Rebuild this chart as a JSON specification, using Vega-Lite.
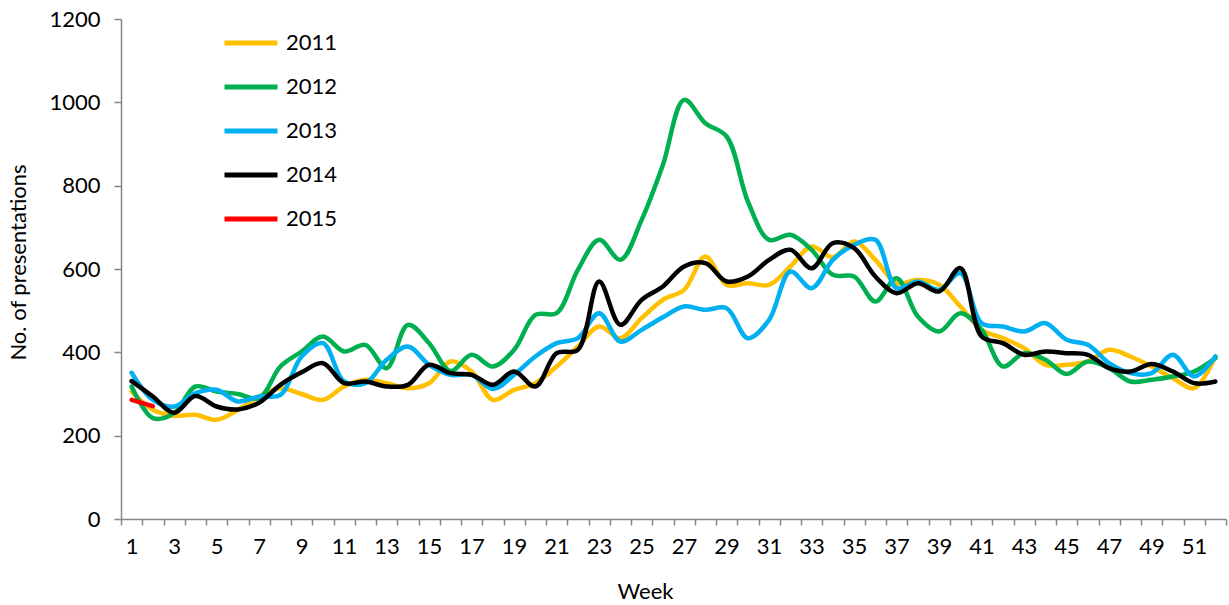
{
"$schema": "https://vega.github.io/schema/vega-lite/v6.json",
"width": 1105, "height": 500,
"autosize": {"type": "none"},
"padding": {"left": 121, "top": 19, "right": 3, "bottom": 86},
"config": {"view": {"stroke": null}, "font": "Lato"},
"data": {"values": [
{"week":1,"year":"2011","value":306},{"week":2,"year":"2011","value":262},{"week":3,"year":"2011","value":248},{"week":4,"year":"2011","value":250},{"week":5,"year":"2011","value":238},{"week":6,"year":"2011","value":262},{"week":7,"year":"2011","value":294},{"week":8,"year":"2011","value":314},{"week":9,"year":"2011","value":300},{"week":10,"year":"2011","value":286},{"week":11,"year":"2011","value":318},{"week":12,"year":"2011","value":334},{"week":13,"year":"2011","value":326},{"week":14,"year":"2011","value":314},{"week":15,"year":"2011","value":326},{"week":16,"year":"2011","value":378},{"week":17,"year":"2011","value":354},{"week":18,"year":"2011","value":286},{"week":19,"year":"2011","value":310},{"week":20,"year":"2011","value":326},{"week":21,"year":"2011","value":366},{"week":22,"year":"2011","value":414},{"week":23,"year":"2011","value":462},{"week":24,"year":"2011","value":434},{"week":25,"year":"2011","value":482},{"week":26,"year":"2011","value":526},{"week":27,"year":"2011","value":550},{"week":28,"year":"2011","value":630},{"week":29,"year":"2011","value":562},{"week":30,"year":"2011","value":566},{"week":31,"year":"2011","value":562},{"week":32,"year":"2011","value":606},{"week":33,"year":"2011","value":654},{"week":34,"year":"2011","value":628},{"week":35,"year":"2011","value":666},{"week":36,"year":"2011","value":622},{"week":37,"year":"2011","value":566},{"week":38,"year":"2011","value":574},{"week":39,"year":"2011","value":562},{"week":40,"year":"2011","value":510},{"week":41,"year":"2011","value":454},{"week":42,"year":"2011","value":434},{"week":43,"year":"2011","value":410},{"week":44,"year":"2011","value":370},{"week":45,"year":"2011","value":370},{"week":46,"year":"2011","value":378},{"week":47,"year":"2011","value":406},{"week":48,"year":"2011","value":390},{"week":49,"year":"2011","value":366},{"week":50,"year":"2011","value":338},{"week":51,"year":"2011","value":314},{"week":52,"year":"2011","value":390},
{"week":1,"year":"2012","value":318},{"week":2,"year":"2012","value":242},{"week":3,"year":"2012","value":254},{"week":4,"year":"2012","value":318},{"week":5,"year":"2012","value":306},{"week":6,"year":"2012","value":300},{"week":7,"year":"2012","value":290},{"week":8,"year":"2012","value":366},{"week":9,"year":"2012","value":402},{"week":10,"year":"2012","value":438},{"week":11,"year":"2012","value":402},{"week":12,"year":"2012","value":418},{"week":13,"year":"2012","value":362},{"week":14,"year":"2012","value":466},{"week":15,"year":"2012","value":422},{"week":16,"year":"2012","value":355},{"week":17,"year":"2012","value":394},{"week":18,"year":"2012","value":366},{"week":19,"year":"2012","value":406},{"week":20,"year":"2012","value":490},{"week":21,"year":"2012","value":494},{"week":22,"year":"2012","value":598},{"week":23,"year":"2012","value":670},{"week":24,"year":"2012","value":622},{"week":25,"year":"2012","value":718},{"week":26,"year":"2012","value":850},{"week":27,"year":"2012","value":1006},{"week":28,"year":"2012","value":950},{"week":29,"year":"2012","value":918},{"week":30,"year":"2012","value":762},{"week":31,"year":"2012","value":670},{"week":32,"year":"2012","value":682},{"week":33,"year":"2012","value":646},{"week":34,"year":"2012","value":586},{"week":35,"year":"2012","value":582},{"week":36,"year":"2012","value":522},{"week":37,"year":"2012","value":578},{"week":38,"year":"2012","value":486},{"week":39,"year":"2012","value":450},{"week":40,"year":"2012","value":494},{"week":41,"year":"2012","value":454},{"week":42,"year":"2012","value":366},{"week":43,"year":"2012","value":398},{"week":44,"year":"2012","value":382},{"week":45,"year":"2012","value":348},{"week":46,"year":"2012","value":378},{"week":47,"year":"2012","value":362},{"week":48,"year":"2012","value":330},{"week":49,"year":"2012","value":334},{"week":50,"year":"2012","value":342},{"week":51,"year":"2012","value":354},{"week":52,"year":"2012","value":386},
{"week":1,"year":"2013","value":351},{"week":2,"year":"2013","value":286},{"week":3,"year":"2013","value":270},{"week":4,"year":"2013","value":302},{"week":5,"year":"2013","value":310},{"week":6,"year":"2013","value":282},{"week":7,"year":"2013","value":294},{"week":8,"year":"2013","value":298},{"week":9,"year":"2013","value":390},{"week":10,"year":"2013","value":422},{"week":11,"year":"2013","value":330},{"week":12,"year":"2013","value":326},{"week":13,"year":"2013","value":382},{"week":14,"year":"2013","value":414},{"week":15,"year":"2013","value":370},{"week":16,"year":"2013","value":346},{"week":17,"year":"2013","value":346},{"week":18,"year":"2013","value":312},{"week":19,"year":"2013","value":346},{"week":20,"year":"2013","value":390},{"week":21,"year":"2013","value":422},{"week":22,"year":"2013","value":434},{"week":23,"year":"2013","value":494},{"week":24,"year":"2013","value":426},{"week":25,"year":"2013","value":454},{"week":26,"year":"2013","value":484},{"week":27,"year":"2013","value":510},{"week":28,"year":"2013","value":502},{"week":29,"year":"2013","value":506},{"week":30,"year":"2013","value":434},{"week":31,"year":"2013","value":478},{"week":32,"year":"2013","value":594},{"week":33,"year":"2013","value":554},{"week":34,"year":"2013","value":622},{"week":35,"year":"2013","value":658},{"week":36,"year":"2013","value":670},{"week":37,"year":"2013","value":554},{"week":38,"year":"2013","value":570},{"week":39,"year":"2013","value":550},{"week":40,"year":"2013","value":590},{"week":41,"year":"2013","value":470},{"week":42,"year":"2013","value":462},{"week":43,"year":"2013","value":450},{"week":44,"year":"2013","value":470},{"week":45,"year":"2013","value":430},{"week":46,"year":"2013","value":418},{"week":47,"year":"2013","value":374},{"week":48,"year":"2013","value":350},{"week":49,"year":"2013","value":350},{"week":50,"year":"2013","value":394},{"week":51,"year":"2013","value":342},{"week":52,"year":"2013","value":390},
{"week":1,"year":"2014","value":331},{"week":2,"year":"2014","value":294},{"week":3,"year":"2014","value":255},{"week":4,"year":"2014","value":295},{"week":5,"year":"2014","value":270},{"week":6,"year":"2014","value":263},{"week":7,"year":"2014","value":279},{"week":8,"year":"2014","value":322},{"week":9,"year":"2014","value":352},{"week":10,"year":"2014","value":374},{"week":11,"year":"2014","value":326},{"week":12,"year":"2014","value":330},{"week":13,"year":"2014","value":318},{"week":14,"year":"2014","value":322},{"week":15,"year":"2014","value":370},{"week":16,"year":"2014","value":350},{"week":17,"year":"2014","value":346},{"week":18,"year":"2014","value":322},{"week":19,"year":"2014","value":354},{"week":20,"year":"2014","value":318},{"week":21,"year":"2014","value":398},{"week":22,"year":"2014","value":406},{"week":23,"year":"2014","value":570},{"week":24,"year":"2014","value":466},{"week":25,"year":"2014","value":526},{"week":26,"year":"2014","value":558},{"week":27,"year":"2014","value":606},{"week":28,"year":"2014","value":614},{"week":29,"year":"2014","value":570},{"week":30,"year":"2014","value":582},{"week":31,"year":"2014","value":622},{"week":32,"year":"2014","value":646},{"week":33,"year":"2014","value":602},{"week":34,"year":"2014","value":662},{"week":35,"year":"2014","value":650},{"week":36,"year":"2014","value":582},{"week":37,"year":"2014","value":542},{"week":38,"year":"2014","value":566},{"week":39,"year":"2014","value":546},{"week":40,"year":"2014","value":602},{"week":41,"year":"2014","value":438},{"week":42,"year":"2014","value":422},{"week":43,"year":"2014","value":394},{"week":44,"year":"2014","value":402},{"week":45,"year":"2014","value":398},{"week":46,"year":"2014","value":394},{"week":47,"year":"2014","value":362},{"week":48,"year":"2014","value":354},{"week":49,"year":"2014","value":372},{"week":50,"year":"2014","value":354},{"week":51,"year":"2014","value":326},{"week":52,"year":"2014","value":330},
{"week":1,"year":"2015","value":286},{"week":2,"year":"2015","value":271}
]},
"mark": {"type": "line", "interpolate": "catmull-rom", "strokeWidth": 4.5, "strokeCap": "round", "strokeJoin": "round"},
"encoding": {
"x": {"field": "week", "type": "ordinal", "sort": "ascending",
"scale": {"type": "band", "paddingInner": 0, "paddingOuter": 0},
"axis": {"tickBand": "extent", "tickSize": 6, "tickColor": "#868686", "domainColor": "#868686", "domainWidth": 1.5, "tickWidth": 1.5,
"labelExpr": "datum.value % 2 == 1 ? datum.label : ''", "labelAngle": 0, "labelFontSize": 22, "labelColor": "black", "labelPadding": 11,
"title": "Week", "titleFontSize": 22, "titleFontWeight": "normal", "titleColor": "black", "titleX": 524, "titleY": 72, "titleBaseline": "middle", "grid": false}},
"y": {"field": "value", "type": "quantitative", "scale": {"domain": [0, 1200]},
"axis": {"values": [0,200,400,600,800,1000,1200], "format": "d", "tickSize": 7, "tickColor": "#868686", "domainColor": "#868686", "domainWidth": 1.5, "tickWidth": 1.5,
"labelFontSize": 22, "labelColor": "black", "labelPadding": 14, "grid": false,
"title": "No. of presentations", "titleFontSize": 22, "titleFontWeight": "normal", "titleColor": "black", "titleX": -103, "titleY": 243, "titleAngle": -90, "titleAlign": "center", "titleBaseline": "middle"}},
"color": {"field": "year", "type": "nominal",
"scale": {"domain": ["2011","2012","2013","2014","2015"], "range": ["#FFC000","#00B050","#00B0F0","#000000","#FF0000"]},
"legend": {"orient": "none", "legendX": 101, "legendY": 2, "title": null, "symbolType": "stroke", "symbolSize": 2809, "symbolStrokeWidth": 5,
"labelFontSize": 22, "labelColor": "black", "labelOffset": 6, "clipHeight": 44, "rowPadding": 0, "padding": 0}}
}
}
